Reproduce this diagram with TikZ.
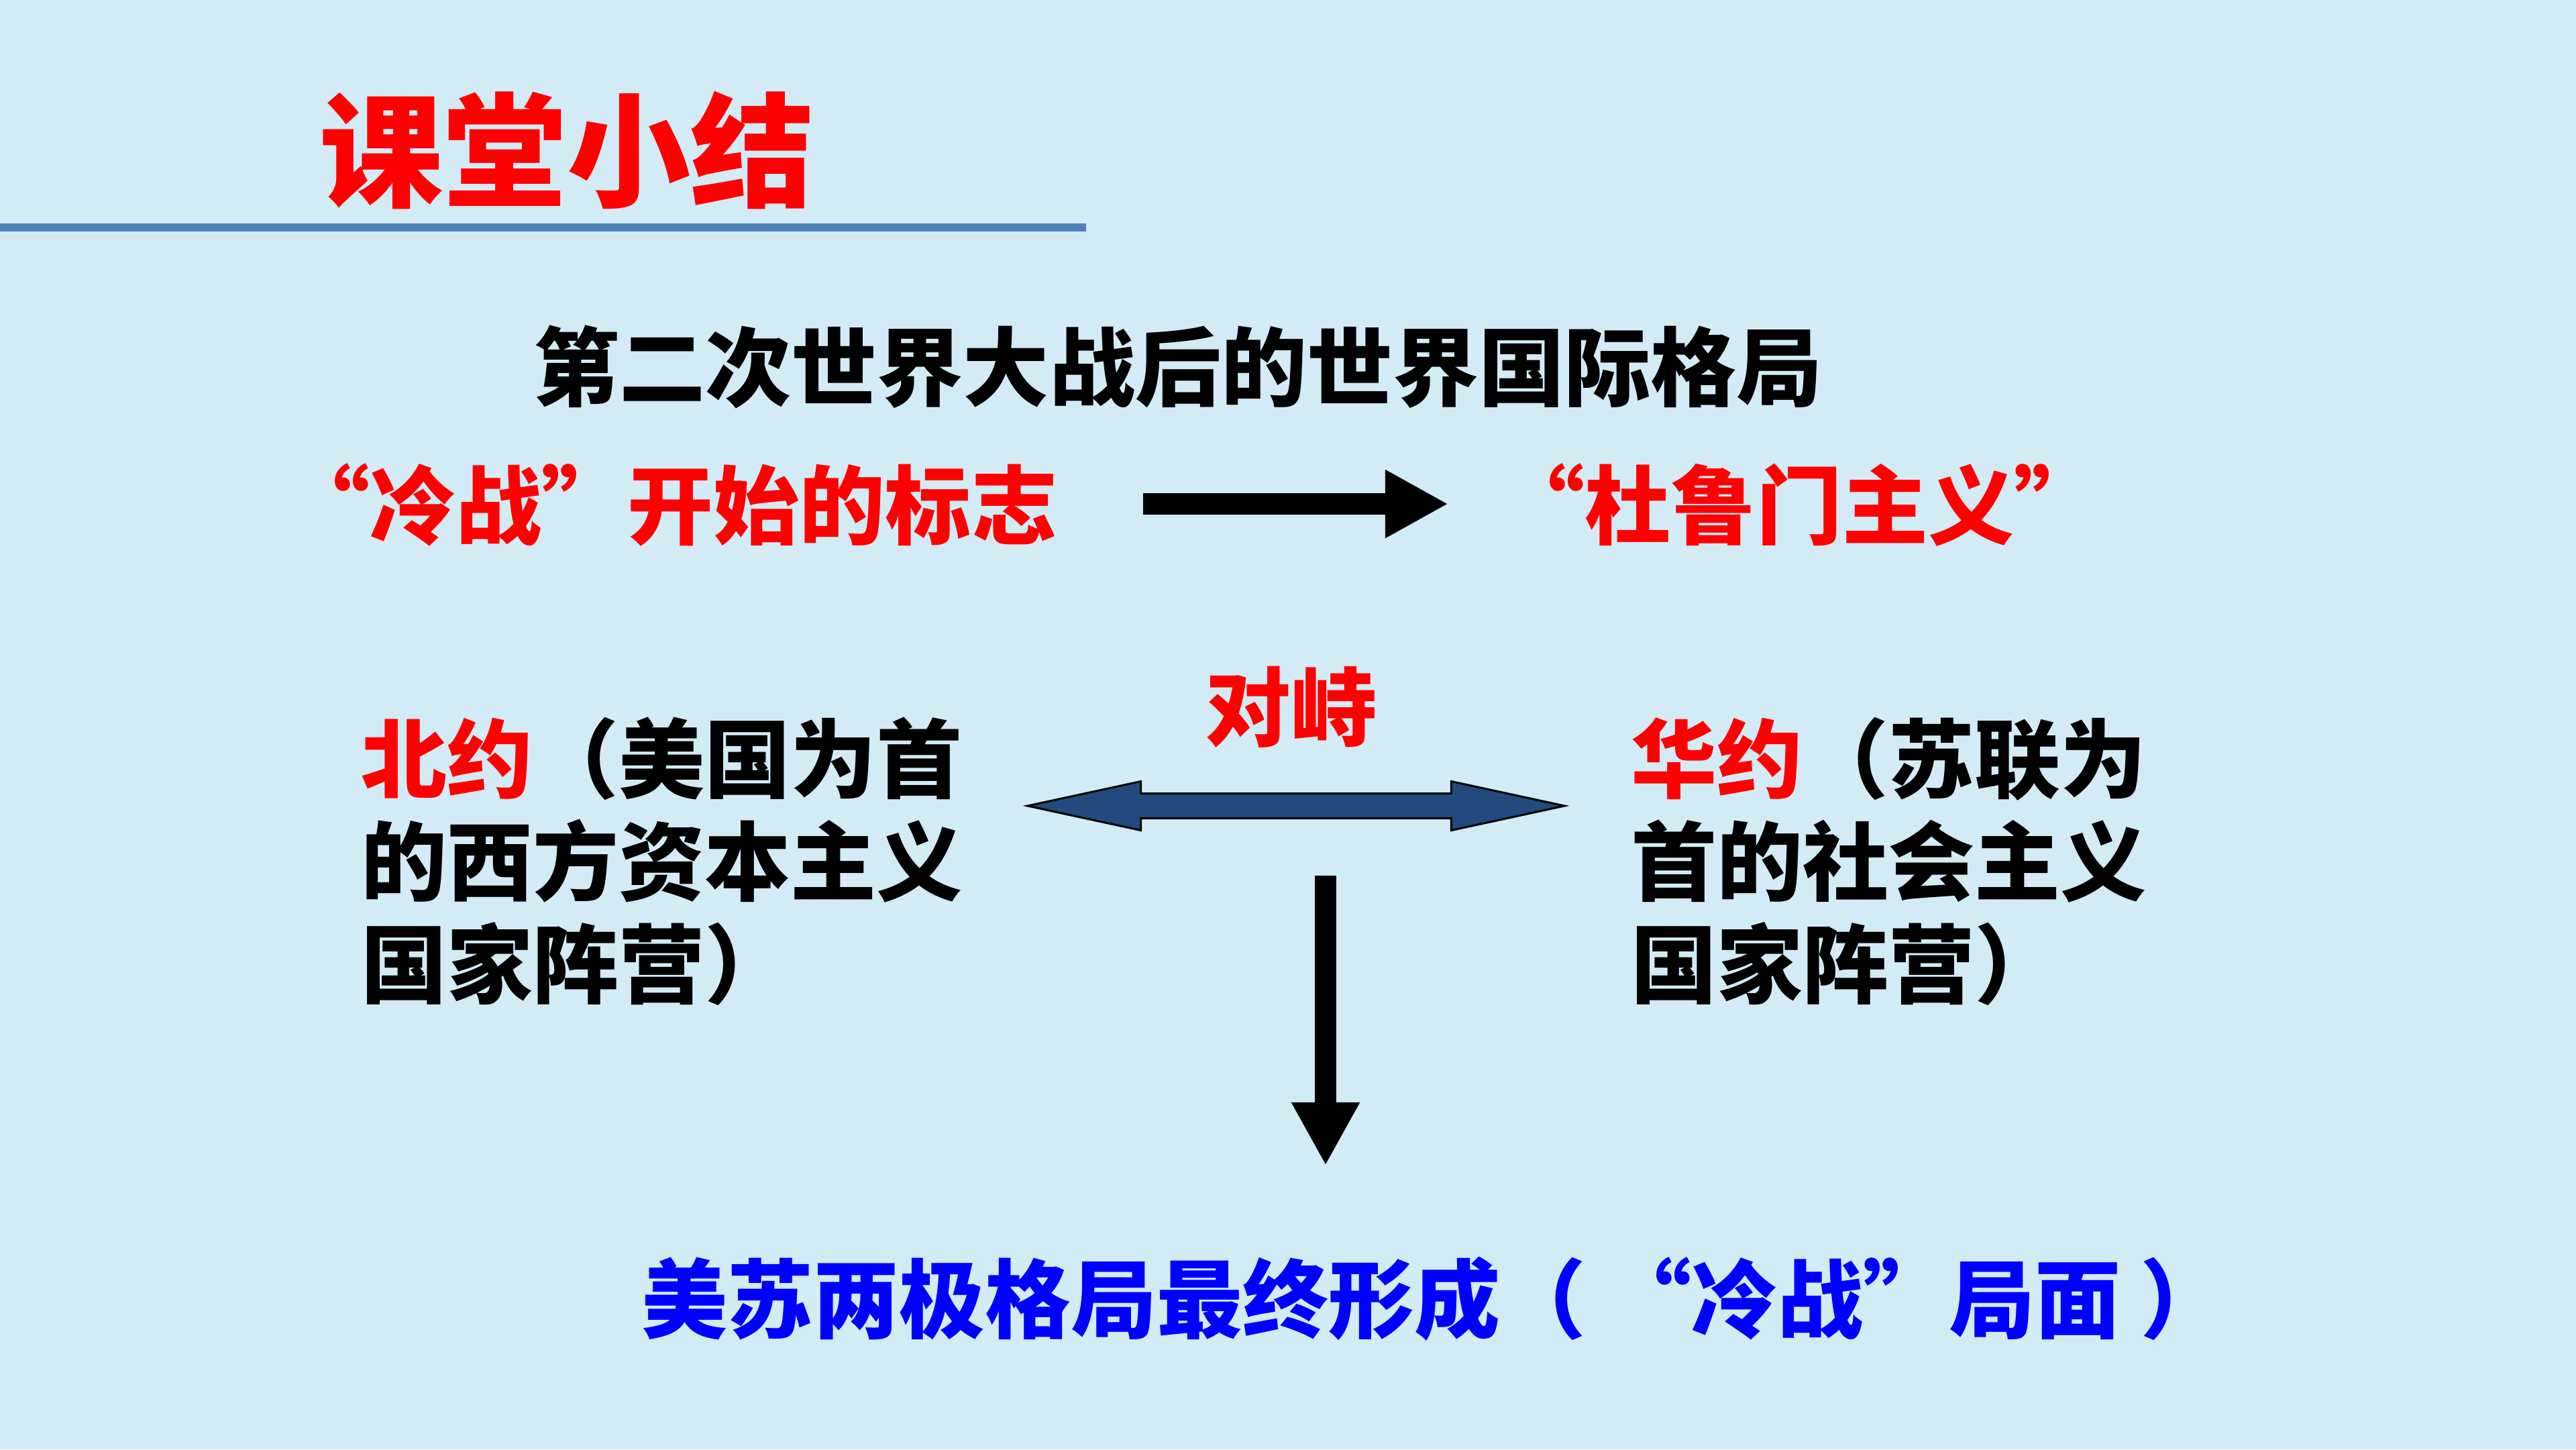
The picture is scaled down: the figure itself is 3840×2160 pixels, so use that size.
\documentclass[tikz,border=0pt]{standalone}
\usepackage{fontspec}
\newfontfamily\cjk{Noto Sans CJK SC}
\usetikzlibrary{arrows.meta,shapes.arrows,calc}
\definecolor{bg}{RGB}{211,235,245}
\definecolor{rulecol}{RGB}{79,129,189}
\definecolor{navy}{RGB}{34,74,126}
\definecolor{myred}{RGB}{255,0,0}
\definecolor{myblue}{RGB}{0,0,255}
\begin{document}
\begin{tikzpicture}[x=0.01cm,y=-0.01cm,
  body/.style={font=\cjk\bfseries\fontsize{36.4pt}{43.5pt}\selectfont, inner sep=0pt, outer sep=0pt},
  titletext/.style={font=\cjk\bfseries\fontsize{52.4pt}{60pt}\selectfont, inner sep=0pt, text=myred},
  blocktext/.style={body, align=left},
  bigarrow/.style={line width=0.32cm, -{Triangle[length=0.94cm,width=0.95cm]}},
  bothways/.style={double arrow, draw=black, line width=0.03cm, fill=navy,
    minimum height=8cm, minimum width=0.7cm, double arrow head extend=0.18cm,
    double arrow tip angle=24.4, double arrow head indent=0pt,
    inner xsep=0pt, inner ysep=0.17cm}]
\fill[bg] (0,0) rectangle (3840,2160);
\useasboundingbox (0,0) rectangle (3840,2160);
% title and rule
\node[titletext, anchor=base west] (title) at (476,294) {课堂小结};
\draw[rulecol, line width=0.12cm] (0,339) -- (1619,339);
% heading
\node[body, anchor=base] (head) at (1756,595) {第二次世界大战后的世界国际格局};
% first row
\node[body, text=myred, anchor=base east] (sign) at (1576,801) {“冷战”开始的标志};
\node[body, text=myred, anchor=base] (truman) at (2682,801) {“杜鲁门主义”};
\coordinate (ra1) at (1704,751);
\coordinate (ra2) at (2159,751);
\draw[bigarrow] (ra1) -- (ra2);
% confrontation
\node[body, text=myred, anchor=base] (dz) at (1924,1102) {对峙};
\node[blocktext, anchor=west] (nato) at (538,1284) {\textcolor{myred}{北约}（美国为首\\的西方资本主义\\国家阵营）};
\node[blocktext, anchor=west] (warsaw) at (2431,1284) {\textcolor{myred}{华约}（苏联为\\首的社会主义\\国家阵营）};
\node[bothways] (dar) at (1932,1201) {};
\coordinate (dtop) at (1976,1305);
\coordinate (dbot) at (1976,1737);
\draw[bigarrow] (dtop) -- (dbot);
% result
\node[body, text=myblue, anchor=base west] (result) at (956,1984) {美苏两极格局最终形成（ “冷战”局面 ）};
\end{tikzpicture}
\end{document}
